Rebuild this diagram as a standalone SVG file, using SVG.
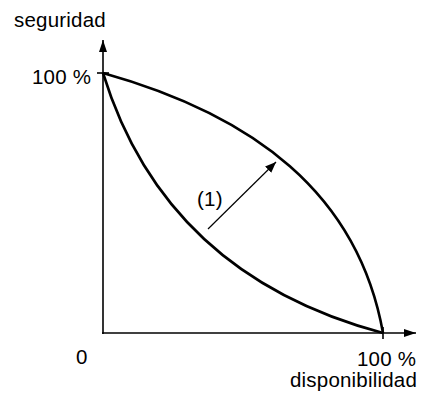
<svg xmlns="http://www.w3.org/2000/svg" width="421" height="398" viewBox="0 0 421 398">
<defs>
<style>
text{font-family:"Liberation Sans",Arial,sans-serif;font-size:20.5px;letter-spacing:0.2px;fill:#000}
.ax{stroke:#000;stroke-width:1.6;fill:none}
.cv{stroke:#000;stroke-width:2.6;fill:none}
</style>
<marker id="ah" viewBox="0 0 12 8" refX="12" refY="4" markerWidth="12" markerHeight="8" markerUnits="userSpaceOnUse" orient="auto"><path d="M0,0 L12,4 L0,8 Z" fill="#000"/></marker>
<marker id="ah2" viewBox="0 0 10 10" refX="10" refY="5" markerWidth="11" markerHeight="11" markerUnits="userSpaceOnUse" orient="auto"><path d="M0,1 L10,5 L0,9 Z" fill="#000"/></marker>
</defs>
<rect width="421" height="398" fill="#fff"/>
<g id="axes">
<line class="ax" x1="103" y1="334" x2="103" y2="40" marker-end="url(#ah)"/>
<line class="ax" x1="102" y1="333" x2="416" y2="333" marker-end="url(#ah)"/>
<line class="ax" x1="97" y1="73" x2="109" y2="73"/>
<line class="ax" x1="383" y1="327" x2="383" y2="339"/>
</g>
<g id="curves">
<path class="cv" d="M103,73 C253,115 358,193 383,333"/>
<path class="cv" d="M103,73 C143,203 233,293 383,333"/>
</g>
<g id="connectors">
<line x1="208" y1="229" x2="276" y2="162" stroke="#000" stroke-width="1.2" marker-end="url(#ah2)"/>
</g>
<g id="labels">
<text x="14" y="27">seguridad</text>
<text x="32" y="84">100 %</text>
<text x="76" y="364">0</text>
<text x="357" y="366">100 %</text>
<text x="290" y="387">disponibilidad</text>
<text x="197" y="206">(1)</text>
</g>
</svg>
